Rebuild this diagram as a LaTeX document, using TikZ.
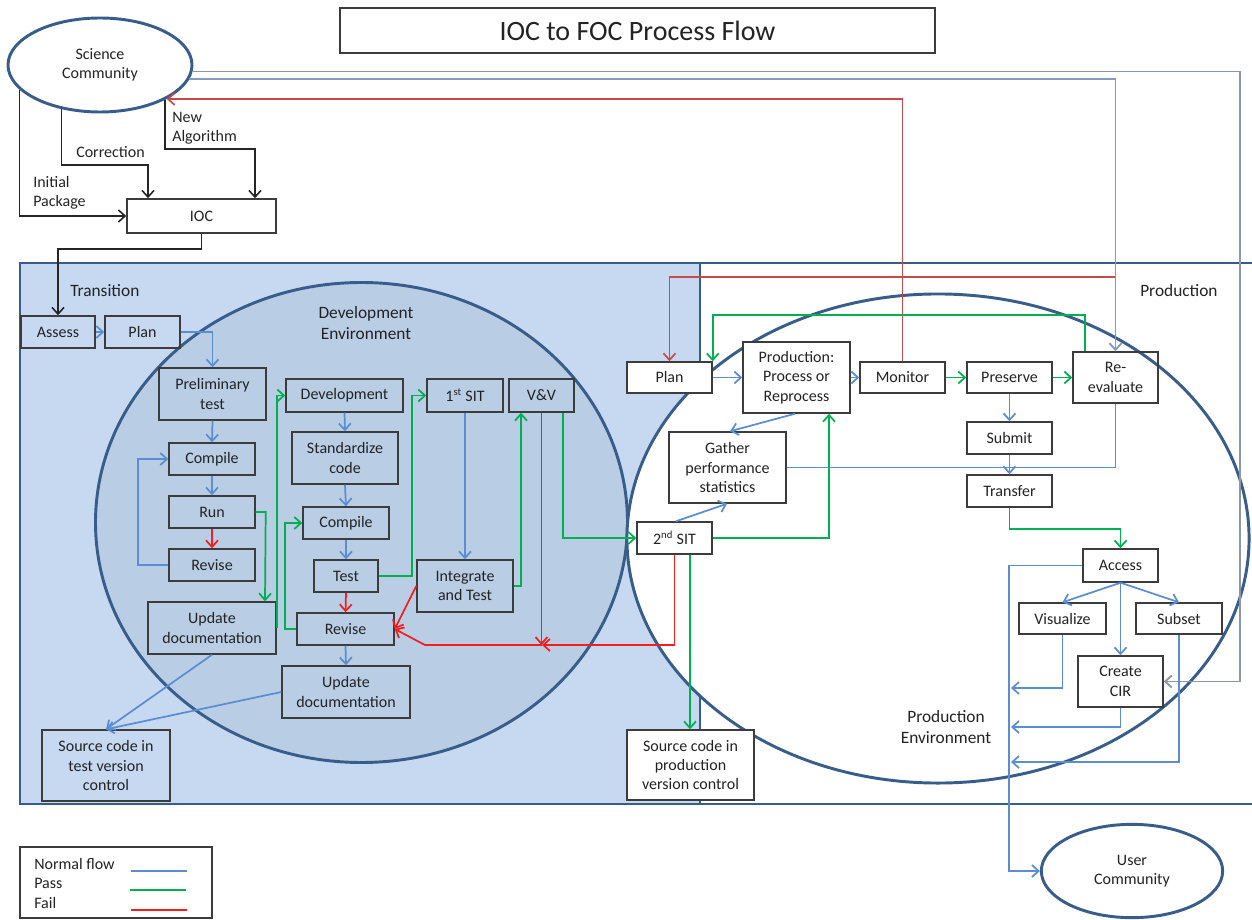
\documentclass[tikz,border=0pt]{standalone}
\usepackage{fontspec}
\setmainfont{Carlito}
\usetikzlibrary{arrows.meta,shapes.geometric}
\definecolor{transfill}{RGB}{198,217,241}
\definecolor{devfill}{RGB}{185,205,229}
\definecolor{frame}{RGB}{56,93,138}
\definecolor{flowblue}{RGB}{91,142,208}
\definecolor{passgreen}{RGB}{0,176,80}
\definecolor{failred}{RGB}{245,30,30}
\definecolor{darkred}{RGB}{200,75,75}
\definecolor{sciblue}{RGB}{130,155,192}
\definecolor{scigray}{RGB}{140,152,168}
\definecolor{boxline}{RGB}{60,60,60}
\definecolor{txt}{RGB}{35,35,35}
\newcommand\bfnt{\fontsize{12}{14.5}\selectfont}
\newcommand\rfnt{\fontsize{13}{16}\selectfont}
\newcommand\tfnt{\fontsize{21}{25}\selectfont}
\newcommand\mkbox[7][box]{\node[#1, minimum width={(#5-#3)*0.75pt}, minimum height={(#6-#4)*0.75pt}] (#2) at ({(#3+#5)/2},{(#4+#6)/2}) {#7};}
\begin{document}
\begin{tikzpicture}[x=0.75pt,y=-0.75pt,
  box/.style={draw=boxline, line width=1.1pt, inner sep=0pt, align=center, font=\bfnt, text=txt},
  wbox/.style={box, fill=white},
  ell/.style={ellipse, draw=frame, line width=2.2pt, fill=white, inner sep=0pt, align=center, font=\bfnt, text=txt},
  tip/.style={-{Straight Barb[length=5pt,width=9pt]}},
  nf/.style={draw=flowblue, line width=1.3pt},
  ps/.style={draw=passgreen, line width=1.3pt},
  fl/.style={draw=failred, line width=1.3pt},
  dr/.style={draw=darkred, line width=1.3pt},
  sl/.style={draw=sciblue, line width=1.4pt},
  bk/.style={draw=black!85, line width=1.2pt},
  lbl/.style={font=\bfnt, text=txt, inner sep=0pt, align=left},
  rlbl/.style={font=\rfnt, text=txt, inner sep=0pt, align=center}]
\useasboundingbox (0,0) rectangle (1252,920);
\clip (0,0) rectangle (1252,920);

% regions
\draw[draw=frame, line width=2.2pt, fill=white] (700,263) rectangle (1270,804);
\draw[draw=frame, line width=2.2pt, fill=transfill] (20,263) rectangle (700,804);
\draw[draw=frame, line width=2.2pt, fill=devfill] (361.5,522.5) ellipse [x radius=199.5pt, y radius=180pt];
\draw[draw=frame, line width=2.2pt, fill=white] (938,538.5) ellipse [x radius=233.3pt, y radius=183.4pt];

\node[rlbl, anchor=west] (ltrans) at (70,291) {Transition};
\node[rlbl, anchor=west] (lprod) at (1140,291) {Production};
\node[rlbl] (ldev) at (366,323) {Development\\Environment};
\node[rlbl] (lpenv) at (946,727) {Production\\Environment};

% title and top
\mkbox[wbox, line width=1pt, font=\tfnt]{title}{340}{8}{935}{53}{IOC to FOC Process Flow}
\node[ell, minimum width=138pt, minimum height=70.5pt] (sci) at (100,65) {Science\\Community};
\mkbox[wbox]{ioc}{127}{199}{276}{233}{IOC}
\node[lbl, anchor=west] (linit) at (33,193) {Initial\\Package};
\node[lbl, anchor=west] (lcorr) at (76,152) {Correction};
\node[lbl, anchor=west] (lnew) at (172,128) {New\\Algorithm};

% transition boxes
\mkbox{assess}{21}{316}{95}{348}{Assess}
\mkbox{tplan}{105}{316}{180}{348}{Plan}
\mkbox{prelim}{159}{368}{266}{420}{Preliminary\\test}
\mkbox{comp1}{169}{443}{255}{475}{Compile}
\mkbox{run}{169}{496}{255}{528}{Run}
\mkbox{rev1}{169}{549}{255}{581}{Revise}
\mkbox{upd1}{148}{602}{276}{654}{Update\\documentation}
\mkbox{srctest}{42}{730}{170}{801}{Source code in\\test version\\control}
\mkbox{dev}{286}{379}{403}{412}{Development}
\mkbox{std}{292}{432}{398}{484}{Standardize\\code}
\mkbox{comp2}{303}{507}{389}{539}{Compile}
\mkbox{test}{314}{560}{378}{592}{Test}
\mkbox{rev2}{297}{613}{394}{645}{Revise}
\mkbox{upd2}{282}{666}{410}{718}{Update\\documentation}
\mkbox{sit1}{427}{379}{503}{412}{1\textsuperscript{st} SIT}
\mkbox{vv}{509}{379}{574}{412}{V\&V}
\mkbox{integ}{417}{560}{513}{612}{Integrate\\and Test}

% production boxes
\mkbox[wbox]{pplan}{627}{362}{712}{393}{Plan}
\mkbox[wbox]{prod}{743}{342}{850}{413}{Production:\\Process or\\Reprocess}
\mkbox[wbox]{mon}{860}{362}{945}{393}{Monitor}
\mkbox[wbox]{gather}{669}{432}{786}{503}{Gather\\performance\\statistics}
\mkbox[wbox]{sit2}{637}{522}{712}{554}{2\textsuperscript{nd} SIT}
\mkbox[wbox]{pres}{967}{362}{1052}{393}{Preserve}
\mkbox{reev}{1073}{352}{1158}{403}{Re-\\evaluate}
\mkbox[wbox]{submit}{967}{422}{1052}{454}{Submit}
\mkbox[wbox]{transfer}{967}{475}{1052}{507}{Transfer}
\mkbox[wbox]{access}{1083}{549}{1158}{582}{Access}
\mkbox[wbox]{vis}{1019}{603}{1106}{634}{Visualize}
\mkbox[wbox]{subset}{1136}{603}{1222}{634}{Subset}
\mkbox[wbox]{cir}{1078}{656}{1163}{707}{Create\\CIR}
\mkbox[wbox]{srcprod}{627}{730}{754}{800}{Source code in\\production\\version control}
\node[ell, minimum width=136pt, minimum height=70pt] (user) at (1132,871) {User\\Community};

% black connectors
\draw[bk,tip] (sci.197) |- (ioc.west);
\draw[bk,tip] (sci.229) |- (148,165) -- (148,0 |- ioc.north);
\draw[bk,tip] (sci.332) |- (255,149) -- (255,0 |- ioc.north);
\draw[bk,tip] (ioc.south) -- ++(0,15) -| (assess.north);

% red feedback lines
\draw[dr,tip] (reev.north) |- (pplan.north |- 0,277) -- (pplan.north);
\draw[dr,tip] (mon.north) |- (sci.333);

% science community blue lines
\draw[sl,draw=scigray,tip] (sci.356) -- (1240,0 |- sci.356) |- (cir.east);
\draw[sl,tip] (sci.351) -| (reev.north);

% transition flow
\draw[nf,tip] (assess) -- (tplan);
\draw[nf,tip] (tplan.east) -| (prelim.north);
\draw[nf,tip] (prelim.south) -- (comp1.north);
\draw[nf,tip] (comp1.south) -- (run.north);
\draw[fl,tip] (run.south) -- (rev1.north);
\draw[nf,tip] (rev1.west) -- ++(-30,0) |- (comp1.west);
\draw[ps,tip] (run.east) -- ++(10,0) -- (265,0 |- upd1.north);
\draw[ps,tip] (upd1.east) |- (dev.west);
\draw[nf,tip] (dev.south) -- (std.north);
\draw[nf,tip] (std.south) -- (comp2.north);
\draw[nf,tip] (comp2.south) -- (test.north);
\draw[fl,tip] (test.south) -- (rev2.north);
\draw[nf,tip] (rev2.south) -- (upd2.north);
\draw[ps,tip] (rev2.west) -- ++(-11,0) |- (comp2.west);
\draw[ps,tip] (test.east) -- ++(33,0) |- (sit1.west);
\draw[nf,tip] (sit1.south) -- (integ.north);
\draw[ps,tip] (integ.east) -| (521,0 |- vv.south);
\draw[fl,tip] (integ.west) -- (rev2.east);
\draw[fl,tip] (vv.south) -- (vv.south |- 0,645);
\coordinate (jn) at (542,645);
\draw[fl,tip] (sit2.south) |- (jn);
\draw[fl,tip] (jn) -- (425,645) -- (rev2.east);
\draw[ps,tip] (563,0 |- vv.south) |- (sit2.west);
\draw[nf,tip] (upd1.south) -- (srctest.north);
\draw[nf,tip] (upd2.west) -- (srctest.north);

% production flow
\draw[nf,tip] (pplan) -- (prod);
\draw[nf,tip] (prod) -- (mon);
\draw[ps,tip] (mon) -- (pres);
\draw[ps,tip] (pres) -- (reev);
\draw[ps,tip] (1085,0 |- reev.north) -- ++(0,-36) -| (pplan.north east);
\draw[nf,tip] (795,0 |- prod.south) -- (730,0 |- gather.north);
\draw[nf,tip] (676,0 |- sit2.north) -- (727,0 |- gather.south);
\draw[ps,tip] (sit2.east) -| (829,0 |- prod.south);
\draw[nf] (gather.east) -| (reev.south);
\draw[nf,tip] (pres) -- (submit);
\draw[nf,tip] (submit) -- (transfer);
\draw[ps,tip] (transfer.south) -- ++(0,21) -| (access.north);
\draw[nf,tip] (access.south) -- (vis.north);
\draw[nf,tip] (access.south) -- (subset.north);
\draw[nf,tip] (access.south) -- (cir.north);
\draw[nf,tip] (access.west) -- ++(-73,0) |- (user.west);
\draw[nf,tip] (vis.south) |- (1011,688);
\draw[nf,tip] (cir.south) |- (1011,727);
\draw[nf,tip] (subset.south) |- (1011,762);
\draw[ps,tip] (690,0 |- sit2.south) -- (690,0 |- srcprod.north);

% legend
\mkbox[wbox]{legend}{20}{847}{212}{918}{}
\node[lbl, anchor=west] (lg1) at (34,864) {Normal flow};
\node[lbl, anchor=west] (lg2) at (34,883) {Pass};
\node[lbl, anchor=west] (lg3) at (34,903) {Fail};
\draw[nf, line width=1.4pt] (131,871) -- (187,871);
\draw[ps, line width=1.4pt] (130,890) -- (186,890);
\draw[fl, line width=1.4pt] (131,910) -- (187,910);
\end{tikzpicture}
\end{document}
